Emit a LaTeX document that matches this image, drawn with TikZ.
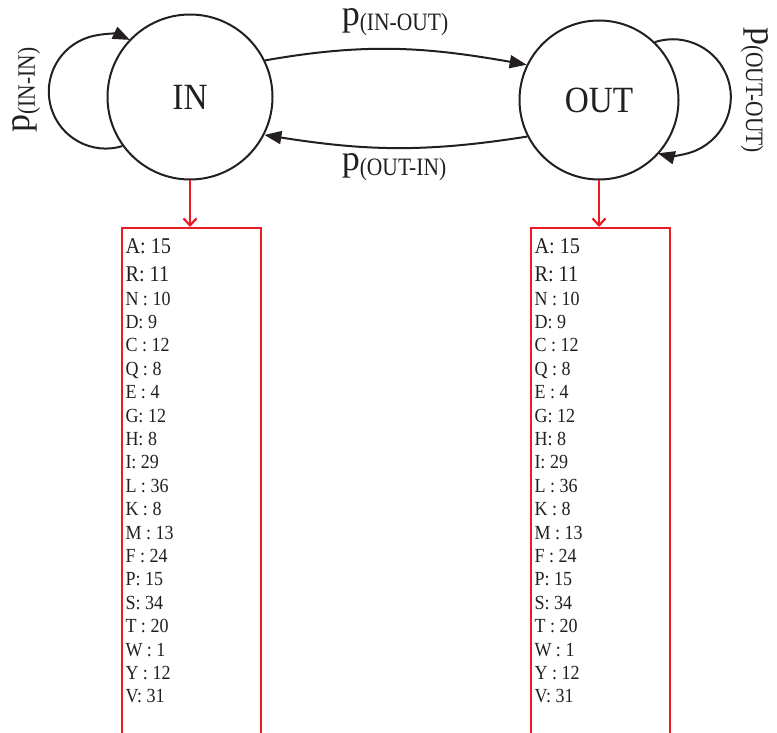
\documentclass[tikz,border=0pt]{standalone}
\usepackage{fontspec}
\setmainfont{Liberation Serif}
\newfontfamily\condserif[FakeStretch=0.9]{Liberation Serif}
\newfontfamily\narrowserif[FakeStretch=0.86]{Liberation Serif}
\usetikzlibrary{arrows.meta}
\definecolor{boxred}{RGB}{237,28,36}
\definecolor{ink}{RGB}{35,31,32}

\begin{document}
\begin{tikzpicture}[x=1pt,y=1pt,
  state/.style={circle, draw=ink, line width=2pt, inner sep=0pt, text=ink,
    font=\condserif\fontsize{37}{37}\selectfont},
  trans/.style={draw=ink, line width=2pt, -{Triangle[length=17pt,width=13pt]}},
  emit/.style={draw=boxred, line width=2.2pt, -{Straight Barb[length=7pt,width=13pt]}},
  listbox/.style={draw=boxred, line width=2.4pt, minimum width=139pt,
    minimum height=530pt, anchor=north, inner sep=0pt},
  prob/.style={inner sep=0pt, anchor=base, text=ink, text height=18pt, text depth=9pt,
    font=\fontsize{36}{36}\selectfont},
  entry/.style={anchor=base west, inner sep=0pt, text=ink,
    font=\condserif\fontsize{20}{20}\selectfont},
  bigentry/.style={entry, font=\condserif\fontsize{22.5}{22.5}\selectfont}
]
\newcommand\subp[1]{p\raisebox{-5pt}{\narrowserif\fontsize{25}{25}\selectfont(#1)}}
\useasboundingbox (0,0) rectangle (777,-733);
\clip (0,0) rectangle (777,-733);

% states
\node[state, minimum size=165pt] (in) at (190,-97) {IN};
\node[state, minimum size=159pt] (out) at (599,-100) {OUT};

% transitions between the states
\draw[trans] (in.26) to[out=10, in=170] (out.154);
\draw[trans] (out.207) to[out=189, in=-9] (in.333);

% self loops
\draw[trans] (in.216) arc[start angle=-73, end angle=-295, radius=57pt];
\draw[trans] (out.46) arc[start angle=108, end angle=-105, radius=58pt];

% transition probabilities
\node[prob] (pio) at (395,-26) {\subp{IN-OUT}};
\node[prob] (poi) at (394,-171) {\subp{OUT-IN}};
\node[prob, rotate=90] (pii) at (30,-90) {\subp{IN-IN}};
\node[prob, rotate=-90] (poo) at (751,-90) {\subp{OUT-OUT}};

% emission lists
\node[listbox] (inbox) at (191.5,-227) {};
\node[listbox] (outbox) at (600.5,-227) {};
\draw[emit] (in.south) -- (in.south |- inbox.north);
\draw[emit] (out.south) -- (out.south |- outbox.north);

\foreach \bx in {in, out} {
  \foreach \t [count=\i] in {A: 15, R: 11, N : 10, D: 9, C : 12, Q : 8, E : 4,
      G: 12, H: 8, I: 29, L : 36, K : 8, M : 13, F : 24, P: 15, S: 34,
      T : 20, W : 1, Y : 12, V: 31} {
    \ifnum\i=1 \def\yy{26}\def\sty{bigentry}\fi
    \ifnum\i=2 \def\yy{54}\def\sty{bigentry}\fi
    \ifnum\i>2 \pgfmathsetmacro\yy{78+(\i-3)*23.4}\def\sty{entry}\fi
    \node[\sty] (\bx l\i) at ([shift={(4.5,-\yy)}]\bx box.north west) {\t};
  }
}
\end{tikzpicture}
\end{document}
